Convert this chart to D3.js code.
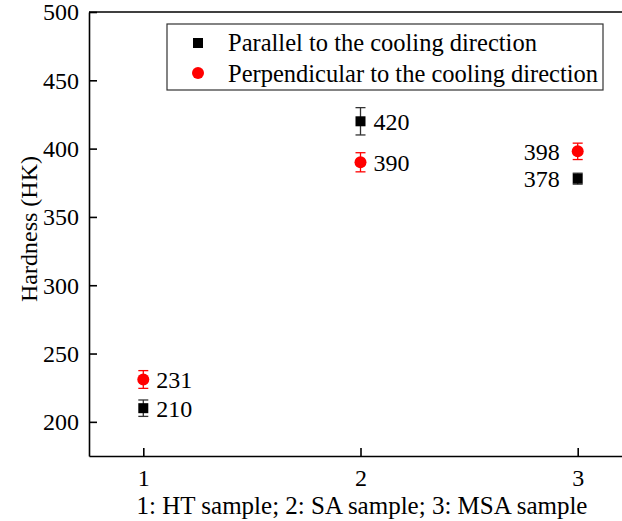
<!DOCTYPE html>
<html>
<head>
<meta charset="utf-8">
<script src="https://cdn.jsdelivr.net/npm/d3@7"></script>
<style>
  html, body { margin: 0; padding: 0; background: #fff; }
  svg { display: block; }
</style>
</head>
<body>
<svg id="chart" width="622" height="521"></svg>
<script>
// Sample positions on the x axis and their labels
const samples = [1, 2, 3];
const xTickLabels = ["1", "2", "3"];
const yTicks = [200, 250, 300, 350, 400, 450, 500];

// Hardness (HK) measured parallel to the cooling direction
const parallelValues = [210, 420, 378];
const parallelErrors = [6, 10, 4];

// Hardness (HK) measured perpendicular to the cooling direction
const perpendicularValues = [231, 390, 398];
const perpendicularErrors = [6.5, 7, 6];

const seriesNames = ["Parallel to the cooling direction", "Perpendicular to the cooling direction"];
const xTitle = "1: HT sample; 2: SA sample; 3: MSA sample";
const yTitle = "Hardness (HK)";

const FONT = '"Liberation Serif"';
const svg = d3.select("#chart");
const plotLeft = 89, plotTop = 12, plotBottom = 456, plotRight = 632;

const x = d3.scaleLinear().domain([0.75, 3.25]).range([plotLeft, plotRight]);
const y = d3.scaleLinear().domain([175, 500]).range([plotBottom, plotTop]);

// Frame: top line plus left and bottom axes
svg.append("line").attr("x1", plotLeft).attr("x2", plotRight).attr("y1", plotTop).attr("y2", plotTop)
  .attr("stroke", "#000").attr("stroke-width", 1.6);

const yAxis = d3.axisLeft(y).tickValues(yTicks).tickSizeInner(-8).tickSizeOuter(0).tickPadding(10);
const gy = svg.append("g").attr("transform", `translate(${plotLeft},0)`).call(yAxis);
const xAxis = d3.axisBottom(x).tickValues(samples).tickFormat((d, i) => xTickLabels[i])
  .tickSizeInner(-8).tickSizeOuter(0).tickPadding(13);
const gx = svg.append("g").attr("transform", `translate(0,${plotBottom})`).call(xAxis);

[gx, gy].forEach(g => {
  g.attr("font-family", null).attr("font-size", null);
  g.select(".domain").attr("stroke", "#000").attr("stroke-width", 1.6);
  g.selectAll(".tick line").attr("stroke", "#000").attr("stroke-width", 1.6);
  g.selectAll(".tick text").style("font-family", FONT).style("font-size", "24px").attr("fill", "#000");
});
gy.selectAll(".tick text").attr("dy", "0.33em");
gx.selectAll(".tick text").attr("dy", "0.71em");

// Axis titles
svg.append("text").attr("x", 362).attr("y", 514)
  .attr("text-anchor", "middle").style("font-family", FONT).style("font-size", "25px").text(xTitle);
svg.append("text").attr("transform", "translate(37,229) rotate(-90)")
  .attr("text-anchor", "middle").style("font-family", FONT).style("font-size", "24px").text(yTitle);

// Error bars and markers
function errorBars(values, errors, color) {
  const g = svg.append("g").attr("stroke", color).attr("stroke-width", 1.3);
  samples.forEach((s, i) => {
    const cx = x(s), lo = y(values[i] - errors[i]), hi = y(values[i] + errors[i]);
    g.append("line").attr("x1", cx).attr("x2", cx).attr("y1", lo).attr("y2", hi);
    g.append("line").attr("x1", cx - 5).attr("x2", cx + 5).attr("y1", lo).attr("y2", lo);
    g.append("line").attr("x1", cx - 5).attr("x2", cx + 5).attr("y1", hi).attr("y2", hi);
  });
}
errorBars(parallelValues, parallelErrors, "#333");
errorBars(perpendicularValues, perpendicularErrors, "#ff0000");

svg.append("g").selectAll("rect").data(parallelValues).join("rect")
  .attr("x", (d, i) => x(samples[i]) - 5).attr("y", d => y(d) - 5)
  .attr("width", 10).attr("height", 10).attr("fill", "#000");
svg.append("g").selectAll("circle").data(perpendicularValues).join("circle")
  .attr("cx", (d, i) => x(samples[i])).attr("cy", d => y(d))
  .attr("r", 6).attr("fill", "#ff0000");

// Value labels: right of the marker for samples 1 and 2, left for sample 3
function valueLabels(values) {
  svg.append("g").selectAll("text").data(values).join("text")
    .attr("x", (d, i) => samples[i] === 3 ? x(samples[i]) - 18 : x(samples[i]) + 13)
    .attr("y", d => y(d))
    .attr("dy", "0.36em")
    .attr("text-anchor", (d, i) => samples[i] === 3 ? "end" : "start")
    .style("font-family", FONT).style("font-size", "24px")
    .text(d => d);
}
valueLabels(parallelValues);
valueLabels(perpendicularValues);

// Legend
const lg = svg.append("g");
lg.append("rect").attr("x", 167).attr("y", 24).attr("width", 436).attr("height", 66)
  .attr("fill", "#fff").attr("stroke", "#333").attr("stroke-width", 1.2);
lg.append("rect").attr("x", 193).attr("y", 38).attr("width", 10).attr("height", 10).attr("fill", "#000");
lg.append("circle").attr("cx", 198).attr("cy", 73).attr("r", 6).attr("fill", "#ff0000");
lg.selectAll("text.lbl").data(seriesNames).join("text").attr("class", "lbl")
  .attr("x", 228).attr("y", (d, i) => 43 + i * 31).attr("dy", "0.34em")
  .style("font-family", FONT).style("font-size", "24.5px").text(d => d);
</script>
</body>
</html>
